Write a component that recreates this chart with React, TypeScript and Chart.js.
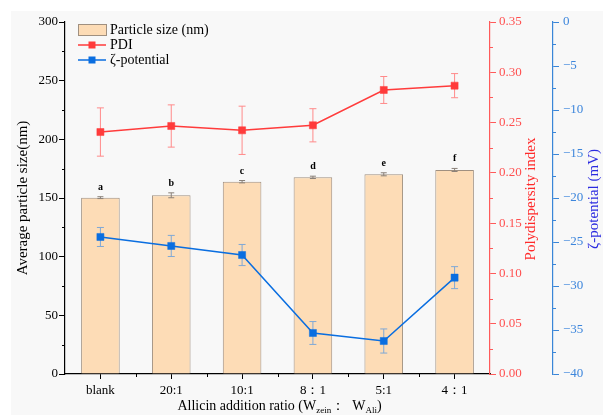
import React, { useEffect, useRef } from 'react';
import { Chart, registerables } from 'chart.js';

Chart.register(...registerables);

const categories = ['blank', '20:1', '10:1', '8：1', '5:1', '4：1'];
const sizeValues = [150.3, 152.3, 163.9, 167.6, 170.2, 173.9];
const sizeErrors = [0.8, 2.1, 1.0, 1.0, 1.3, 1.3];
const sigLetters = ['a', 'b', 'c', 'd', 'e', 'f'];
const pdiValues = [0.2406, 0.2466, 0.2423, 0.2473, 0.2824, 0.2867];
const pdiErrors = [0.024, 0.021, 0.024, 0.0165, 0.0134, 0.012];
const zetaValues = [-24.43, -25.45, -26.48, -35.34, -36.25, -29.05];
const zetaErrors = [1.08, 1.2, 1.2, 1.3, 1.37, 1.25];

const SERIF = '"Liberation Serif", "Times New Roman", serif';
const RED = '#ff3b3b';
const RED_ERR = '#ff8a8a';
const BLUE = '#0a6ee0';
const BLUE_ERR = '#7fa8d6';
const RED_AXIS = '#ff5a5a';
const BLUE_AXIS = '#3a86d8';

function drawErr(ctx: CanvasRenderingContext2D, x: number, yTop: number, yBot: number, color: string, cap: number) {
  ctx.save();
  ctx.strokeStyle = color;
  ctx.lineWidth = 1;
  ctx.beginPath();
  ctx.moveTo(x, yTop);
  ctx.lineTo(x, yBot);
  ctx.moveTo(x - cap, yTop);
  ctx.lineTo(x + cap, yTop);
  ctx.moveTo(x - cap, yBot);
  ctx.lineTo(x + cap, yBot);
  ctx.stroke();
  ctx.restore();
}

export default function App() {
  const ref = useRef<HTMLCanvasElement>(null);

  useEffect(() => {
    if (!ref.current) return;

    const customPlugin = {
      id: 'custom',
      beforeDraw(chart: any) {
        const ctx = chart.ctx as CanvasRenderingContext2D;
        ctx.save();
        ctx.fillStyle = '#ffffff';
        ctx.fillRect(0, 0, chart.width, chart.height);
        ctx.fillStyle = '#f8f8f8';
        ctx.fillRect(11, 11, chart.width - 11, chart.height - 11);
        ctx.restore();
      },
      beforeDatasetDraw(chart: any, args: any) {
        const ctx = chart.ctx as CanvasRenderingContext2D;
        const xs = chart.scales.x;
        if (args.index === 1) {
          const ys = chart.scales.yPDI;
          pdiValues.forEach((v, i) => {
            const x = xs.getPixelForValue(i);
            drawErr(ctx, x, ys.getPixelForValue(v + pdiErrors[i]), ys.getPixelForValue(v - pdiErrors[i]), RED_ERR, 3.5);
          });
        }
        if (args.index === 2) {
          const ys = chart.scales.yZeta;
          zetaValues.forEach((v, i) => {
            const x = xs.getPixelForValue(i);
            drawErr(ctx, x, ys.getPixelForValue(v + zetaErrors[i]), ys.getPixelForValue(v - zetaErrors[i]), BLUE_ERR, 3.5);
          });
        }
      },
      afterDatasetDraw(chart: any, args: any) {
        if (args.index !== 0) return;
        const ctx = chart.ctx as CanvasRenderingContext2D;
        const xs = chart.scales.x;
        const ys = chart.scales.y;
        sizeValues.forEach((v, i) => {
          const x = xs.getPixelForValue(i);
          drawErr(ctx, x, ys.getPixelForValue(v + sizeErrors[i]), ys.getPixelForValue(v - sizeErrors[i]), '#8a8078', 3);
          ctx.save();
          ctx.fillStyle = '#000';
          ctx.font = 'bold 10px ' + SERIF;
          ctx.textAlign = 'center';
          ctx.textBaseline = 'alphabetic';
          ctx.fillText(sigLetters[i], x, ys.getPixelForValue(v + sizeErrors[i]) - 7);
          ctx.restore();
        });
      },
      afterDraw(chart: any) {
        const ctx = chart.ctx as CanvasRenderingContext2D;
        const area = chart.chartArea;
        const xs = chart.scales.x;
        ctx.save();
        // minor ticks
        ctx.lineWidth = 1;
        const yL = chart.scales.y;
        ctx.strokeStyle = '#000';
        ctx.beginPath();
        for (let v = 25; v < 300; v += 50) {
          const y = Math.round(yL.getPixelForValue(v)) + 0.5;
          ctx.moveTo(area.left - 3, y);
          ctx.lineTo(area.left, y);
        }
        for (let i = 1; i < categories.length; i++) {
          const x = Math.round((xs.getPixelForValue(i - 1) + xs.getPixelForValue(i)) / 2) + 0.5;
          ctx.moveTo(x, area.bottom);
          ctx.lineTo(x, area.bottom + 3);
        }
        ctx.stroke();
        const yP = chart.scales.yPDI;
        ctx.strokeStyle = RED_AXIS;
        ctx.beginPath();
        for (let k = 0; k < 7; k++) {
          const v = 0.025 + k * 0.05;
          const y = Math.round(yP.getPixelForValue(v)) + 0.5;
          ctx.moveTo(yP.left, y);
          ctx.lineTo(yP.left + 3, y);
        }
        ctx.stroke();
        const yZ = chart.scales.yZeta;
        ctx.strokeStyle = BLUE_AXIS;
        ctx.beginPath();
        for (let k = 0; k < 8; k++) {
          const v = -2.5 - k * 5;
          const y = Math.round(yZ.getPixelForValue(v)) + 0.5;
          ctx.moveTo(yZ.left, y);
          ctx.lineTo(yZ.left + 3, y);
        }
        ctx.stroke();

        // axis titles
        ctx.textAlign = 'center';
        ctx.textBaseline = 'middle';
        ctx.save();
        ctx.translate(23, 198);
        ctx.rotate(-Math.PI / 2);
        ctx.fillStyle = '#000';
        ctx.font = '15px ' + SERIF;
        ctx.fillText('Average particle size(nm)', 0, 0);
        ctx.restore();

        ctx.save();
        ctx.translate(531, 199);
        ctx.rotate(-Math.PI / 2);
        ctx.fillStyle = '#ff2a2a';
        ctx.font = '15px ' + SERIF;
        ctx.fillText('Polydispersity index', 0, 0);
        ctx.restore();

        ctx.save();
        ctx.translate(594, 199);
        ctx.rotate(-Math.PI / 2);
        ctx.fillStyle = '#2b2be0';
        ctx.font = '15px ' + SERIF;
        ctx.fillText('ζ-potential (mV)', 0, 0);
        ctx.restore();

        // x title with subscripts
        const parts: [string, boolean][] = [
          ['Allicin addition ratio (W', false],
          ['zein', true],
          ['：  W', false],
          ['Ali', true],
          [')', false],
        ];
        const mainFont = '14px ' + SERIF;
        const subFont = '9px ' + SERIF;
        let total = 0;
        parts.forEach(([t, s]) => {
          ctx.font = s ? subFont : mainFont;
          total += ctx.measureText(t).width;
        });
        let cx = (area.left + area.right) / 2 + 2 - total / 2;
        ctx.textAlign = 'left';
        ctx.textBaseline = 'alphabetic';
        ctx.fillStyle = '#000';
        parts.forEach(([t, s]) => {
          ctx.font = s ? subFont : mainFont;
          ctx.fillText(t, cx, s ? 413 : 410);
          cx += ctx.measureText(t).width;
        });

        // legend
        ctx.fillStyle = '#fddcb6';
        ctx.strokeStyle = '#a09080';
        ctx.lineWidth = 1;
        ctx.fillRect(78, 24, 28, 11);
        ctx.strokeRect(78.5, 24.5, 28, 11);
        ctx.font = '14px ' + SERIF;
        ctx.textBaseline = 'middle';
        ctx.fillStyle = '#000';
        ctx.fillText('Particle size (nm)', 110, 30);
        ctx.fillText('PDI', 110, 45);
        ctx.fillText('ζ-potential', 110, 60);
        const legLine = (y: number, c: string) => {
          ctx.strokeStyle = c;
          ctx.lineWidth = 1.5;
          ctx.beginPath();
          ctx.moveTo(78, y);
          ctx.lineTo(106, y);
          ctx.stroke();
          ctx.fillStyle = c;
          ctx.fillRect(88.5, y - 3.5, 7, 7);
        };
        legLine(45, RED);
        legLine(60, BLUE);
        ctx.restore();
      },
    };

    const chart = new Chart(ref.current, {
      type: 'bar',
      data: {
        labels: categories,
        datasets: [
          {
            type: 'bar',
            label: 'Particle size (nm)',
            data: sizeValues,
            yAxisID: 'y',
            backgroundColor: '#fddcb6',
            borderColor: '#a09080',
            borderWidth: { top: 1, left: 1, right: 1, bottom: 0 },
            borderSkipped: 'bottom',
            barPercentage: 0.545,
            categoryPercentage: 1,
            order: 3,
          } as any,
          {
            type: 'line',
            label: 'PDI',
            data: pdiValues,
            yAxisID: 'yPDI',
            borderColor: RED,
            backgroundColor: RED,
            borderWidth: 1.5,
            pointStyle: 'rect',
            pointRadius: 5,
            pointBackgroundColor: RED,
            pointBorderColor: RED,
            pointBorderWidth: 0.5,
            order: 2,
          } as any,
          {
            type: 'line',
            label: 'ζ-potential',
            data: zetaValues,
            yAxisID: 'yZeta',
            borderColor: BLUE,
            backgroundColor: BLUE,
            borderWidth: 1.5,
            pointStyle: 'rect',
            pointRadius: 5,
            pointBackgroundColor: BLUE,
            pointBorderColor: BLUE,
            pointBorderWidth: 0.5,
            order: 1,
          } as any,
        ],
      },
      options: {
        responsive: false,
        animation: false,
        devicePixelRatio: 1,
        layout: { padding: { top: 22, left: 0, right: 0, bottom: 0 } },
        plugins: { legend: { display: false }, tooltip: { enabled: false } },
        scales: {
          x: {
            offset: true,
            grid: { display: true, offset: false, drawOnChartArea: false, drawTicks: true, tickLength: 5, tickColor: '#000' },
            border: { display: true, color: '#000', width: 1.2 },
            ticks: { color: '#000', font: { family: SERIF, size: 13 }, padding: 4, maxRotation: 0, autoSkip: false },
            afterFit: (s: any) => { s.height = 41; },
          },
          y: {
            position: 'left',
            min: 0,
            max: 300,
            grid: { display: true, drawOnChartArea: false, drawTicks: true, tickLength: 6, tickColor: '#000' },
            border: { display: true, color: '#000', width: 1.2 },
            ticks: { stepSize: 50, color: '#000', font: { family: SERIF, size: 13 }, padding: 1 },
            afterFit: (s: any) => { s.width = 65; },
          },
          yPDI: {
            position: 'right',
            weight: 0,
            min: 0,
            max: 0.35,
            grid: { display: true, drawOnChartArea: false, drawTicks: true, tickLength: 6, tickColor: RED_AXIS },
            border: { display: true, color: RED_AXIS, width: 1.2 },
            ticks: {
              stepSize: 0.05,
              color: '#ff5050',
              font: { family: SERIF, size: 13 },
              padding: 3,
              callback: (v: any) => Number(v).toFixed(2),
            },
            afterFit: (s: any) => { s.width = 63; },
          },
          yZeta: {
            position: 'right',
            weight: 1,
            min: -40,
            max: 0,
            grid: { display: true, drawOnChartArea: false, drawTicks: true, tickLength: 6, tickColor: BLUE_AXIS },
            border: { display: true, color: BLUE_AXIS, width: 1.2 },
            ticks: {
              stepSize: 5,
              color: '#3d86dc',
              font: { family: SERIF, size: 13 },
              padding: 4,
              callback: (v: any) => {
                const n = Math.round(Number(v));
                return n === 0 ? '0' : '−' + Math.abs(n);
              },
            },
            afterFit: (s: any) => { s.width = 50; },
          },
        },
      } as any,
      plugins: [customPlugin],
    });

    return () => chart.destroy();
  }, []);

  return (
    <div style={{ position: 'absolute', left: 0, top: 0, width: 603, height: 415 }}>
      <canvas ref={ref} width={603} height={415} style={{ display: 'block', width: 603, height: 415 }} />
    </div>
  );
}
